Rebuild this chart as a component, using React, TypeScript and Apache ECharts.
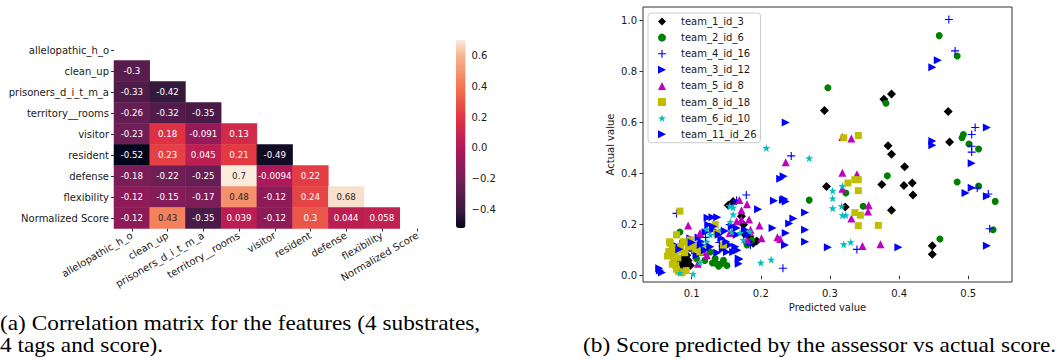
import React, { useEffect, useRef } from "react";
import * as echarts from "echarts";

// ---------- Data: correlation matrix ----------
const features = [
  "allelopathic_h_o",
  "clean_up",
  "prisoners_d_i_t_m_a",
  "territory__rooms",
  "visitor",
  "resident",
  "defense",
  "flexibility",
  "Normalized Score",
];
const corrLower: number[][] = [
  [],
  [-0.3],
  [-0.33, -0.42],
  [-0.26, -0.32, -0.35],
  [-0.23, 0.18, -0.091, 0.13],
  [-0.52, 0.23, 0.045, 0.21, -0.49],
  [-0.18, -0.22, -0.25, 0.7, -0.0094, 0.22],
  [-0.12, -0.15, -0.17, 0.48, -0.12, 0.24, 0.68],
  [-0.12, 0.43, -0.35, 0.039, -0.12, 0.3, 0.044, 0.058],
];
const colorbarMin = -0.52;
const colorbarMax = 0.7;
const colorbarTicks = [-0.4, -0.2, 0, 0.2, 0.4, 0.6];

// ---------- Data: predicted vs actual ----------
const predTicks = [0.1, 0.2, 0.3, 0.4, 0.5];
const actualTicks = [0, 0.2, 0.4, 0.6, 0.8, 1.0];
const predMin = 0.0296;
const predMax = 0.5633;
const actualMin = -0.0246;
const actualMax = 1.052;

const team1_id3: number[][] = [
  [0.389, 0.711], [0.378, 0.691], [0.292, 0.647], [0.471, 0.643], [0.384, 0.509], [0.389, 0.476],
  [0.473, 0.523], [0.408, 0.427], [0.407, 0.353], [0.419, 0.363], [0.42, 0.316], [0.295, 0.349],
  [0.375, 0.357], [0.322, 0.269], [0.389, 0.256], [0.448, 0.117], [0.448, 0.084],
  [0.153, 0.276], [0.16, 0.291], [0.172, 0.233], [0.175, 0.2], [0.175, 0.167], [0.18, 0.133],
  [0.189, 0.127], [0.184, 0.153], [0.194, 0.136], [0.086, 0.067], [0.09, 0.047], [0.093, 0.08],
  [0.088, 0.037], [0.083, 0.053], [0.095, 0.06], [0.098, 0.04], [0.09, 0.073], [0.087, 0.027],
];
const team2_id6: number[][] = [
  [0.458, 0.94], [0.484, 0.86], [0.297, 0.736], [0.381, 0.675], [0.493, 0.553], [0.491, 0.54],
  [0.501, 0.516], [0.515, 0.496], [0.383, 0.391], [0.484, 0.367], [0.515, 0.351], [0.539, 0.291],
  [0.536, 0.18], [0.459, 0.144], [0.323, 0.324], [0.27, 0.296], [0.348, 0.272],
  [0.083, 0.171], [0.098, 0.107], [0.093, 0.133], [0.134, 0.067], [0.136, 0.047], [0.143, 0.047],
  [0.151, 0.04], [0.139, 0.037], [0.127, 0.093], [0.119, 0.06], [0.18, 0.12], [0.187, 0.14],
  [0.107, 0.067], [0.146, 0.06], [0.13, 0.05],
];
const team4_id16: number[][] = [
  [0.472, 1.003], [0.481, 0.88], [0.51, 0.58], [0.505, 0.553], [0.505, 0.507], [0.505, 0.484],
  [0.513, 0.343], [0.529, 0.32], [0.531, 0.184], [0.339, 0.103], [0.244, 0.469], [0.232, 0.029],
  [0.179, 0.316], [0.078, 0.244], [0.165, 0.295], [0.16, 0.28], [0.185, 0.12], [0.14, 0.13],
  [0.12, 0.15], [0.1, 0.1], [0.155, 0.2],
];
const team3_id12: number[][] = [
  [0.456, 0.844], [0.448, 0.816], [0.527, 0.58], [0.448, 0.527], [0.505, 0.44], [0.505, 0.344],
  [0.496, 0.324], [0.527, 0.311], [0.527, 0.117], [0.236, 0.6], [0.233, 0.389], [0.234, 0.3],
  [0.264, 0.247], [0.264, 0.133], [0.247, 0.224], [0.236, 0.167], [0.297, 0.111], [0.196, 0.26],
  [0.054, 0.02], [0.076, 0.12], [0.098, 0.147], [0.114, 0.133], [0.13, 0.229], [0.131, 0.18],
  [0.143, 0.147], [0.155, 0.12], [0.165, 0.16], [0.168, 0.067], [0.158, 0.193], [0.177, 0.18],
  [0.184, 0.133], [0.107, 0.08], [0.151, 0.093], [0.088, 0.125], [0.11, 0.15], [0.145, 0.105],
  [0.12, 0.17], [0.137, 0.09],
];
const team5_id8: number[][] = [
  [0.318, 0.543], [0.331, 0.537], [0.318, 0.403], [0.339, 0.397], [0.318, 0.34], [0.356, 0.276],
  [0.355, 0.251], [0.331, 0.224], [0.347, 0.116], [0.373, 0.123], [0.236, 0.444], [0.228, 0.144],
  [0.224, 0.151], [0.201, 0.147], [0.198, 0.197], [0.185, 0.18], [0.169, 0.296], [0.18, 0.28],
  [0.165, 0.213], [0.172, 0.22], [0.183, 0.22], [0.095, 0.197], [0.112, 0.167], [0.109, 0.047],
  [0.117, 0.093], [0.122, 0.08], [0.155, 0.167], [0.18, 0.14], [0.184, 0.171], [0.172, 0.256],
];
const team8_id18: number[][] = [
  [0.32, 0.54], [0.341, 0.549], [0.326, 0.363], [0.336, 0.376], [0.341, 0.376], [0.341, 0.333],
  [0.336, 0.247], [0.344, 0.237], [0.341, 0.196], [0.37, 0.197], [0.083, 0.253],
  [0.069, 0.127], [0.071, 0.093], [0.065, 0.077], [0.074, 0.06], [0.077, 0.04], [0.081, 0.016],
  [0.088, 0.133], [0.098, 0.14], [0.095, 0.113], [0.112, 0.093], [0.136, 0.167], [0.134, 0.2],
  [0.146, 0.12], [0.078, 0.16], [0.068, 0.133], [0.083, 0.1], [0.09, 0.09], [0.078, 0.025],
  [0.102, 0.12], [0.086, 0.012], [0.072, 0.11], [0.067, 0.095], [0.075, 0.082], [0.08, 0.07],
  [0.072, 0.045], [0.084, 0.115], [0.105, 0.105], [0.118, 0.11], [0.092, 0.02],
];
const team6_id10: number[][] = [
  [0.208, 0.5], [0.27, 0.46], [0.318, 0.351], [0.304, 0.333], [0.304, 0.303], [0.304, 0.264],
  [0.317, 0.273], [0.318, 0.237], [0.323, 0.237], [0.32, 0.123], [0.33, 0.131], [0.2, 0.051],
  [0.215, 0.063], [0.083, 0.011], [0.102, 0.007], [0.122, 0.133], [0.127, 0.16], [0.155, 0.273],
  [0.16, 0.267], [0.158, 0.173], [0.17, 0.167], [0.175, 0.14], [0.184, 0.173], [0.112, 0.053],
  [0.115, 0.12], [0.143, 0.18], [0.16, 0.24], [0.156, 0.211], [0.122, 0.183],
];
const team11_id26: number[][] = [
  [0.448, 0.511], [0.228, 0.38], [0.236, 0.291], [0.219, 0.293], [0.232, 0.296], [0.264, 0.18],
  [0.241, 0.204], [0.235, 0.12], [0.399, 0.111], [0.217, 0.187], [0.057, 0.013], [0.053, 0.029],
  [0.082, 0.104], [0.124, 0.2], [0.137, 0.229], [0.139, 0.16], [0.15, 0.133], [0.163, 0.113],
  [0.16, 0.093], [0.168, 0.047], [0.165, 0.187], [0.18, 0.16], [0.119, 0.1], [0.127, 0.113],
  [0.131, 0.193], [0.123, 0.227], [0.166, 0.1], [0.169, 0.064], [0.1, 0.13], [0.113, 0.12],
  [0.148, 0.175],
];

const teamNames = [
  "team_1_id_3",
  "team_2_id_6",
  "team_4_id_16",
  "team_3_id_12",
  "team_5_id_8",
  "team_8_id_18",
  "team_6_id_10",
  "team_11_id_26",
];
const teamData = [team1_id3, team2_id6, team4_id16, team3_id12, team5_id8, team8_id18, team6_id10, team11_id26];

// ---------- styles ----------
const STAR =
  "path://M10,0L12.245,6.91L19.511,6.91L13.633,11.18L15.878,18.09L10,13.82L4.122,18.09L6.367,11.18L0.489,6.91L7.755,6.91Z";
const PLUS = "path://M4.3,0H5.7V4.3H10V5.7H5.7V10H4.3V5.7H0V4.3H4.3Z";
const TRI_RIGHT = "path://M0,0L10,5L0,10Z";
const teamStyles = [
  { symbol: "diamond", size: 9, color: "#000000" },
  { symbol: "circle", size: 7, color: "#008000" },
  { symbol: PLUS, size: 8, color: "#0000ff" },
  { symbol: TRI_RIGHT, size: 8, color: "#0000ff" },
  { symbol: "triangle", size: 8, color: "#bf00bf" },
  { symbol: "rect", size: 7, color: "#bfbf00" },
  { symbol: STAR, size: 8, color: "#00bfbf" },
  { symbol: TRI_RIGHT, size: 8, color: "#0000ff" },
];

const rocketAnchors: [number, string][] = [
  [0, "#03051a"],
  [1 / 12, "#35193e"],
  [3 / 12, "#701f57"],
  [5 / 12, "#ad1759"],
  [7 / 12, "#e13342"],
  [9 / 12, "#f37651"],
  [11 / 12, "#f6b48f"],
  [1, "#faebdd"],
];
function hexToRgb(h: string) {
  return [1, 3, 5].map((i) => parseInt(h.slice(i, i + 2), 16));
}
function rocketAt(t: number) {
  for (let k = 0; k < rocketAnchors.length - 1; k++) {
    const [t0, c0] = rocketAnchors[k];
    const [t1, c1] = rocketAnchors[k + 1];
    if (t <= t1 + 1e-9) {
      const f = (t - t0) / (t1 - t0);
      const a = hexToRgb(c0);
      const b = hexToRgb(c1);
      const c = a.map((v, i) => Math.round(v + (b[i] - v) * f));
      return `rgb(${c[0]},${c[1]},${c[2]})`;
    }
  }
  return rocketAnchors[rocketAnchors.length - 1][1];
}
const rocketColors = Array.from({ length: 49 }, (_, i) => rocketAt(i / 48));

const FONT = "DejaVu Sans";
const TXT = "#1a1a1a";
const CAPTION_FONT = "Liberation Serif";

export default function App() {
  const ref = useRef<HTMLDivElement>(null);
  useEffect(() => {
    if (!ref.current) return;
    const chart = echarts.init(ref.current, undefined, { renderer: "svg" });

    const heatData: any[] = [];
    corrLower.forEach((row, i) => {
      row.forEach((v, j) => {
        heatData.push({
          value: [j, i, v],
          label: { color: v > 0.4 ? "#262626" : "#ffffff" },
        });
      });
    });

    const scatterSeries = teamNames.map((name, k) => ({
      type: "scatter",
      name,
      xAxisIndex: 2,
      yAxisIndex: 2,
      data: teamData[k],
      symbol: teamStyles[k].symbol,
      symbolSize: teamStyles[k].size,
      itemStyle: { color: teamStyles[k].color, opacity: 1 },
      emphasis: { disabled: true },
    }));

    const fmtMinus = (v: number) => (v < 0 ? "\u2212" + Math.abs(v).toFixed(1) : v.toFixed(1));

    const caption = (text: string, x: number, y: number) => ({
      type: "text",
      x,
      y,
      scaleX: 1.06,
      style: {
        text,
        fontFamily: CAPTION_FONT,
        fontSize: 22,
        fill: "#000",
        verticalAlign: "middle",
      },
    });

    chart.setOption({
      animation: false,
      textStyle: { fontFamily: FONT },
      grid: [
        { left: 114, top: 39.5, width: 321.5, height: 189 },
        { left: 456, top: 40, width: 9.5, height: 188 },
        { left: 643, top: 7, width: 369, height: 275, show: true, borderColor: "#333", borderWidth: 1 },
      ],
      xAxis: [
        {
          type: "category",
          gridIndex: 0,
          data: features,
          position: "bottom",
          axisLine: { show: false },
          axisTick: { show: true, alignWithLabel: true, length: 3, lineStyle: { color: "#333" } },
          axisLabel: { rotate: 30, interval: 0, fontSize: 10, color: TXT, margin: 6, fontFamily: FONT },
          splitLine: { show: false },
        },
        { type: "value", gridIndex: 1, show: false, min: 0, max: 1 },
        {
          type: "value",
          gridIndex: 2,
          min: predMin,
          max: predMax,
          axisLine: { show: false },
          axisTick: { show: true, length: 3.5, customValues: predTicks, lineStyle: { color: "#333" } },
          axisLabel: {
            customValues: predTicks,
            formatter: (v: number) => v.toFixed(1),
            fontSize: 10,
            color: TXT,
            margin: 6,
          },
          splitLine: { show: false },
          name: "Predicted value",
          nameLocation: "middle",
          nameGap: 20,
          nameTextStyle: { fontSize: 10, color: TXT },
        },
      ],
      yAxis: [
        {
          type: "category",
          gridIndex: 0,
          data: features,
          inverse: true,
          axisLine: { show: false },
          axisTick: { show: true, alignWithLabel: true, length: 3, lineStyle: { color: "#333" } },
          axisLabel: { interval: 0, fontSize: 10, color: TXT, margin: 5 },
          splitLine: { show: false },
        },
        {
          type: "value",
          gridIndex: 1,
          position: "right",
          min: colorbarMin,
          max: colorbarMax,
          axisLine: { show: false },
          axisTick: { show: true, length: 3.5, customValues: colorbarTicks, lineStyle: { color: "#333" } },
          axisLabel: { customValues: colorbarTicks, formatter: fmtMinus, fontSize: 10, color: TXT, margin: 6 },
          splitLine: { show: false },
        },
        {
          type: "value",
          gridIndex: 2,
          min: actualMin,
          max: actualMax,
          axisLine: { show: false },
          axisTick: { show: true, length: 3.5, customValues: actualTicks, lineStyle: { color: "#333" } },
          axisLabel: {
            customValues: actualTicks,
            formatter: (v: number) => v.toFixed(1),
            fontSize: 10,
            color: TXT,
            margin: 6,
          },
          splitLine: { show: false },
          name: "Actual value",
          nameLocation: "middle",
          nameGap: 28,
          nameTextStyle: { fontSize: 10, color: TXT },
        },
      ],
      visualMap: {
        type: "continuous",
        seriesIndex: 0,
        dimension: 2,
        min: colorbarMin,
        max: colorbarMax,
        calculable: false,
        hoverLink: false,
        orient: "vertical",
        left: 456,
        top: 40,
        itemWidth: 9.5,
        itemHeight: 188,
        padding: 0,
        text: null,
        inRange: { color: rocketColors },
      },
      legend: {
        data: teamNames,
        orient: "vertical",
        left: 648,
        top: 13,
        padding: [3, 4, 3, 10],
        itemWidth: 8,
        itemHeight: 8,
        itemGap: 5.1,
        selectedMode: false,
        backgroundColor: "rgba(255,255,255,0.8)",
        borderColor: "#cccccc",
        borderWidth: 1,
        borderRadius: 3,
        textStyle: { fontSize: 10, color: TXT, fontFamily: FONT, lineHeight: 11, padding: [0, 0, 0, 10] },
      },
      series: [
        {
          type: "heatmap",
          xAxisIndex: 0,
          yAxisIndex: 0,
          data: heatData,
          label: {
            show: true,
            fontSize: 8.7,
            fontFamily: FONT,
            formatter: (p: any) => String(Number(p.value[2].toPrecision(2))),
          },
          emphasis: { disabled: true },
        },
        ...scatterSeries,
      ],
      graphic: [
        caption("(a) Correlation matrix for the features (4 substrates,", 0, 323),
        caption("4 tags and score).", 0, 345),
        caption("(b) Score predicted by the assessor vs actual score.", 583, 345),
      ],
    });
    return () => chart.dispose();
  }, []);
  return (
    <div
      ref={ref}
      style={{ position: "absolute", left: 0, top: 0, width: 1058, height: 360, background: "#fff" }}
    />
  );
}
